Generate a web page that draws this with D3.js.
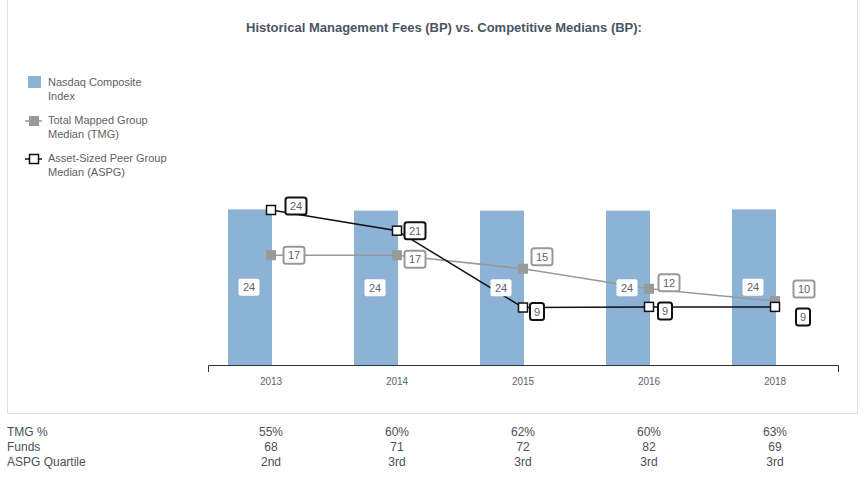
<!DOCTYPE html>
<html>
<head>
<meta charset="utf-8">
<script src="https://cdn.jsdelivr.net/npm/d3@7"></script>
<style>
  body { margin: 0; background: #fff; }
  text { font-family: "Liberation Sans", Arial, sans-serif; }
</style>
</head>
<body>
<div id="chart"></div>
<script>
// chart data
const years = ['2013', '2014', '2015', '2016', '2018'];
const nasdaq = [24.1, 23.9, 23.9, 23.9, 24.1];
const tmg = [17, 17, 14.9, 11.8, 9.9];
const aspg = [24, 20.8, 8.9, 9, 9];

// table under the chart
const tmgPct = ['55%', '60%', '62%', '60%', '63%'];
const funds = ['68', '71', '72', '82', '69'];
const quartile = ['2nd', '3rd', '3rd', '3rd', '3rd'];

// label nudges (layout only), px from the marker
const tmgNudge = [[23, 0], [18, 4], [19, -12], [20, -6], [29, -12]];
const aspgNudge = [[25, -4], [18, 0], [14, 4], [16, 4], [28, 10]];

const width = 865;
const height = 477;
const textCol = '#5b6372';
const barCol = '#8cb3d6';

const svg = d3.select('#chart').append('svg')
  .attr('width', width)
  .attr('height', height);

// frame
svg.append('path')
  .attr('d', 'M7.5,0 V413.5 H857.5 V0')
  .attr('fill', 'none')
  .attr('stroke', '#e0e0e0');

svg.append('text')
  .attr('x', 444).attr('y', 32)
  .attr('text-anchor', 'middle')
  .attr('font-size', 13).attr('font-weight', 'bold')
  .attr('font-family', '"Liberation Sans Narrow", "Liberation Sans", Arial')
  .attr('fill', '#4a5563')
  .text('Historical Management Fees (BP) vs. Competitive Medians (BP):');

const x = d3.scaleBand().domain(years).range([208, 838]);
const y = d3.scaleLinear().domain([0, 24]).range([365, 210]);
const cx = d => x(d) + x.bandwidth() / 2;

// axis
const axis = svg.append('g')
  .attr('transform', 'translate(0,365)')
  .call(d3.axisBottom(x).tickSize(0).tickPadding(13).tickSizeOuter(7));
axis.select('.domain').attr('stroke', '#333');
axis.selectAll('text')
  .attr('font-family', '"Liberation Sans", Arial')
  .attr('font-size', 10).attr('fill', textCol);

// bars
svg.append('g').selectAll('rect')
  .data(years)
  .join('rect')
    .attr('x', d => cx(d) - 43)
    .attr('width', 44)
    .attr('y', (d, i) => y(nasdaq[i]))
    .attr('height', (d, i) => y(0) - y(nasdaq[i]))
    .attr('fill', barCol);

const line = d3.line().x(d => cx(d[0])).y(d => y(d[1]));

svg.append('path')
  .datum(years.map((d, i) => [d, tmg[i]]))
  .attr('d', line).attr('fill', 'none')
  .attr('stroke', '#999').attr('stroke-width', 1.5);

svg.append('g').selectAll('rect')
  .data(years)
  .join('rect')
    .attr('x', d => cx(d) - 5)
    .attr('y', (d, i) => y(tmg[i]) - 5)
    .attr('width', 10).attr('height', 10)
    .attr('fill', '#999');

svg.append('path')
  .datum(years.map((d, i) => [d, aspg[i]]))
  .attr('d', line).attr('fill', 'none')
  .attr('stroke', '#111').attr('stroke-width', 1.5);

svg.append('g').selectAll('rect')
  .data(years)
  .join('rect')
    .attr('x', d => cx(d) - 4.5)
    .attr('y', (d, i) => y(aspg[i]) - 4.5)
    .attr('width', 9).attr('height', 9)
    .attr('fill', '#fff')
    .attr('stroke', '#111').attr('stroke-width', 1.5);

// value label with a box
function boxLabel(g, px, py, txt, stroke, rx) {
  const w = txt.length > 1 ? 21 : 14;
  g.append('rect')
    .attr('x', px - w / 2).attr('y', py - 8.5)
    .attr('width', w).attr('height', 17)
    .attr('rx', rx)
    .attr('fill', '#fff')
    .attr('stroke', stroke)
    .attr('stroke-width', stroke === 'none' ? 0 : 2);
  g.append('text')
    .attr('x', px).attr('y', py + 4)
    .attr('text-anchor', 'middle')
    .attr('font-size', 11)
    .attr('fill', textCol)
    .text(txt);
}

const labels = svg.append('g');
years.forEach((d, i) => {
  boxLabel(labels, cx(d) - 22, (y(nasdaq[i]) + y(0)) / 2, String(Math.round(nasdaq[i])), 'none', 2);
  boxLabel(labels, cx(d) + tmgNudge[i][0], y(tmg[i]) + tmgNudge[i][1], String(Math.round(tmg[i])), '#999', 2.5);
  boxLabel(labels, cx(d) + aspgNudge[i][0], y(aspg[i]) + aspgNudge[i][1], String(Math.round(aspg[i])), '#111', 2.5);
});

// legend
const legend = svg.append('g').attr('font-size', 11);
legend.append('rect').attr('x', 28).attr('y', 76).attr('width', 13).attr('height', 12).attr('fill', barCol);
legend.append('line').attr('x1', 25).attr('x2', 42).attr('y1', 121).attr('y2', 121).attr('stroke', '#999').attr('stroke-width', 1.5);
legend.append('rect').attr('x', 29).attr('y', 116).attr('width', 10).attr('height', 10).attr('fill', '#999');
legend.append('line').attr('x1', 25).attr('x2', 42).attr('y1', 159).attr('y2', 159).attr('stroke', '#111').attr('stroke-width', 1.5);
legend.append('rect').attr('x', 29.5).attr('y', 154.5).attr('width', 9).attr('height', 9).attr('fill', '#fff').attr('stroke', '#111').attr('stroke-width', 1.5);

const legendText = [
  ['Nasdaq Composite', 'Index', 86],
  ['Total Mapped Group', 'Median (TMG)', 124],
  ['Asset-Sized Peer Group', 'Median (ASPG)', 162]
];
legendText.forEach(([a, b, by]) => {
  const t = legend.append('text').attr('x', 48).attr('y', by).attr('fill', '#5f5f5f');
  t.append('tspan').attr('x', 48).text(a);
  t.append('tspan').attr('x', 48).attr('dy', 14).text(b);
});

// table
const rows = [['TMG %', tmgPct], ['Funds', funds], ['ASPG Quartile', quartile]];
const table = svg.append('g')
  .attr('font-size', 12);
rows.forEach(([name, vals], r) => {
  const ry = 436 + r * 15;
  table.append('text').attr('x', 7).attr('y', ry)
    .attr('fill', '#4a4f5a').text(name);
  table.selectAll(null)
    .data(years)
    .join('text')
      .attr('x', d => cx(d))
      .attr('y', ry)
      .attr('text-anchor', 'middle')
      .attr('fill', '#4a4f5a')
      .text((d, i) => vals[i]);
});
</script>
</body>
</html>
